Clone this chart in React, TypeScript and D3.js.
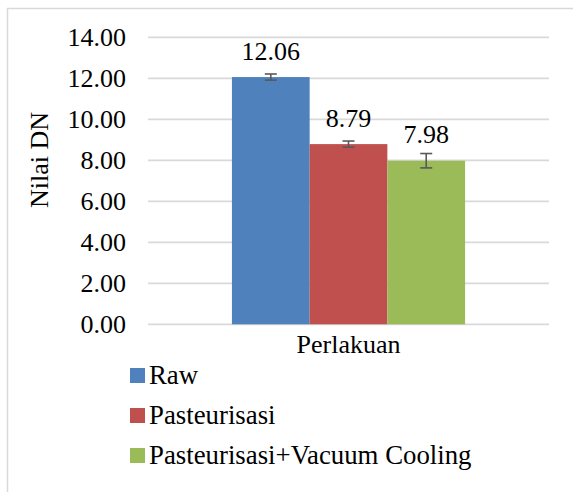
import React from "react";
import * as d3 from "d3";

const categories = ["Perlakuan"];
const seriesNames = ["Raw", "Pasteurisasi", "Pasteurisasi+Vacuum Cooling"];
const seriesValues = [12.06, 8.79, 7.98];
const seriesErrors = [0.15, 0.15, 0.35];
const seriesColors = ["#4F81BD", "#C0504D", "#9BBB59"];
const yTicks = [0, 2, 4, 6, 8, 10, 12, 14];
const yTitle = "Nilai DN";

const W = 573;
const H = 492;
const TS: React.CSSProperties = { fontFamily: "Liberation Serif, 'Times New Roman', serif", fontSize: "26px" };
const LS: React.CSSProperties = { fontFamily: "Liberation Serif, 'Times New Roman', serif", fontSize: "26.8px" };

export default function App() {
  const y = d3.scaleLinear().domain([0, 14]).range([324.3, 37.3]);
  const x0 = d3.scaleBand<string>().domain(categories).range([148, 549]).paddingInner(0).paddingOuter(0.36);
  const x1 = d3.scaleBand<string>().domain(seriesNames).range([0, x0.bandwidth()]).padding(0);

  return (
    <svg width={W} height={H} style={{ position: "absolute", left: 0, top: 0 }}>
      <rect x={0} y={0} width={W} height={H} fill="#fff" />
      <rect x={7.5} y={8.5} width={700} height={700} fill="none" stroke="#D9D9D9" strokeWidth={1.5} />
      {yTicks.map((t) => (
        <g key={t}>
          <line x1={148} x2={549} y1={y(t)} y2={y(t)} stroke="#D9D9D9" strokeWidth={1.8} />
          <text x={126} y={y(t) + 8.5} textAnchor="end" style={TS} fill="#000">
            {t.toFixed(2)}
          </text>
        </g>
      ))}
      {categories.map((c) => (
        <g key={c}>
          {seriesNames.map((s, i) => {
            const bx = (x0(c) as number) + (x1(s) as number);
            const bw = x1.bandwidth();
            const v = seriesValues[i];
            const e = seriesErrors[i];
            const cx = bx + bw / 2;
            return (
              <g key={s}>
                <rect x={bx} y={y(v)} width={bw} height={y(0) - y(v)} fill={seriesColors[i]} />
                <g stroke="#595959" strokeWidth={1.6}>
                  <line x1={cx} x2={cx} y1={y(v + e)} y2={y(v - e)} />
                  <line x1={cx - 6} x2={cx + 6} y1={y(v + e)} y2={y(v + e)} />
                  <line x1={cx - 6} x2={cx + 6} y1={y(v - e)} y2={y(v - e)} />
                </g>
                <text x={cx} y={y(v) - 17.5} textAnchor="middle" style={TS} fill="#000">
                  {v.toFixed(2)}
                </text>
              </g>
            );
          })}
          <text x={(x0(c) as number) + x0.bandwidth() / 2} y={353} textAnchor="middle" style={TS} fill="#000">
            {c}
          </text>
        </g>
      ))}
      <text transform="translate(48,160) rotate(-90)" textAnchor="middle" style={TS} fill="#000">
        {yTitle}
      </text>
      {seriesNames.map((s, i) => (
        <g key={s} transform={`translate(130, ${368 + i * 40})`}>
          <rect x={0} y={0} width={15} height={15} fill={seriesColors[i]} />
          <text x={19} y={16} style={LS} fill="#000">
            {s}
          </text>
        </g>
      ))}
    </svg>
  );
}
